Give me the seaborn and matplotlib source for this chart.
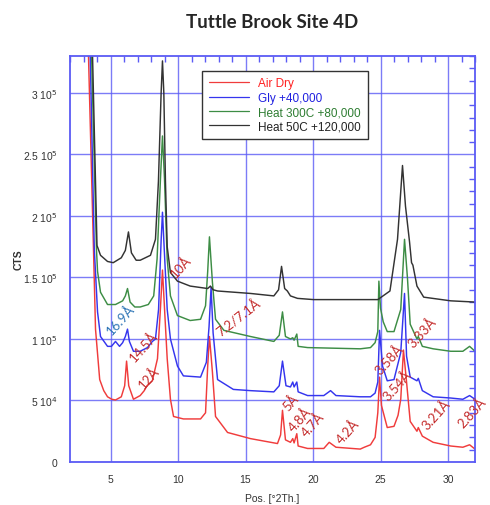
import numpy as np
import pandas as pd
import matplotlib
matplotlib.use('Agg')
import matplotlib.pyplot as plt
import seaborn as sns
from matplotlib.ticker import MultipleLocator

# XRD scans (raw counts, offsets added below)
air_x = [3.2, 3.37, 3.74, 3.89, 4.2, 4.5, 4.78, 5.1, 5.37, 5.8, 6.05, 6.19, 6.35, 6.7, 7.2, 7.5, 7.7, 8.1,
         8.48, 8.7, 8.85, 9.0, 9.2, 9.44, 9.67, 10.4, 11.67, 12.04, 12.2, 12.33, 12.55, 12.78, 13.67, 15.37,
         17.37, 17.6, 17.74, 17.96, 18.33, 18.5, 18.6, 18.8, 18.9, 19.6, 20.8, 21.2, 21.7, 23.5, 23.8, 24.26,
         24.6, 24.8, 24.93, 25.07, 25.5, 26.0, 26.3, 26.5, 26.7, 26.93, 27.2, 27.7, 27.8, 28.1, 28.9, 30.2,
         31.1, 31.6, 32.0]
air_y = [450000, 330000, 173000, 108000, 67000, 58000, 53000, 51000, 50400, 53000, 62000, 82000, 62000,
         51000, 54000, 58000, 62000, 66000, 84000, 125000, 156000, 125000, 84000, 51000, 37000, 35000, 35000,
         40000, 78000, 102000, 73000, 37000, 24000, 19000, 15000, 22000, 42000, 18000, 16000, 19000, 15500,
         23000, 13000, 11000, 11000, 16000, 12000, 10500, 12000, 14000, 20000, 40000, 69000, 46000, 28000,
         29000, 38000, 51000, 91000, 65000, 33000, 25000, 28000, 21000, 16000, 13000, 12000, 14000, 10500]

gly_x = [3.2, 3.5, 3.8, 4.04, 4.26, 4.78, 5.07, 5.37, 5.67, 5.9, 6.1, 6.26, 6.4, 6.55, 6.7, 7.2, 7.74, 8.1,
         8.33, 8.56, 8.75, 8.85, 8.95, 9.2, 9.44, 9.96, 10.4, 11.67, 12.1, 12.3, 12.45, 12.6, 12.93, 14.1,
         15.37, 17.1, 17.5, 17.74, 18.0, 18.33, 18.5, 18.6, 18.8, 18.9, 19.6, 20.8, 21.3, 21.7, 23.5, 24.26,
         24.6, 24.8, 24.93, 25.15, 25.5, 26.0, 26.5, 26.78, 26.93, 27.2, 27.7, 27.8, 28.1, 28.9, 30.2, 31.1,
         31.6, 32.0]
gly_y = [460000, 290000, 133000, 82000, 62000, 54000, 54000, 58000, 54000, 57000, 62000, 68000, 58000,
         54000, 50000, 50000, 53000, 58000, 60000, 84000, 140000, 163000, 140000, 84000, 60000, 38000, 30000,
         29000, 41000, 70000, 102000, 65000, 27000, 19000, 18000, 17000, 22000, 42000, 22000, 21000, 25000,
         21000, 25000, 17000, 14000, 14000, 18000, 14000, 13000, 13000, 16000, 25000, 67000, 38000, 26000,
         27000, 49000, 97000, 46000, 29000, 26000, 28000, 18000, 13000, 12000, 11000, 14000, 11000]

heat300_x = [3.2, 3.6, 3.96, 4.04, 4.26, 4.78, 5.37, 5.9, 6.1, 6.26, 6.45, 6.8, 7.2, 7.8, 8.2, 8.45, 8.7,
             8.85, 9.0, 9.2, 9.44, 9.96, 10.9, 11.67, 12.04, 12.2, 12.33, 12.55, 12.78, 13.4, 15.37, 17.1,
             17.5, 17.74, 17.96, 18.33, 18.5, 18.6, 18.8, 18.9, 19.6, 23.5, 24.26, 24.6, 24.8, 24.88, 25.0,
             25.2, 25.5, 26.0, 26.5, 26.78, 27.0, 27.2, 27.7, 27.8, 28.1, 28.9, 30.2, 31.1, 31.6, 32.0]
heat300_y = [420000, 250000, 93000, 75000, 58000, 48000, 48000, 51000, 55000, 61000, 50000, 46000, 46000,
             48000, 55000, 85000, 150000, 185000, 150000, 85000, 55000, 39000, 35000, 36000, 47000, 75000,
             103000, 66000, 36000, 27000, 22000, 18000, 23000, 42000, 22000, 20000, 21000, 19000, 24000,
             14000, 13000, 12000, 13000, 17000, 26000, 67000, 45000, 34000, 26000, 26000, 44000, 101000,
             69000, 32000, 20000, 22000, 14000, 12000, 10000, 10000, 14000, 10000]

heat50_x = [3.2, 3.67, 4.0, 4.26, 4.78, 5.2, 5.8, 6.1, 6.33, 6.55, 6.9, 7.2, 7.96, 8.33, 8.55, 8.75, 8.85,
            8.95, 9.07, 9.2, 9.44, 9.96, 10.9, 12.2, 12.4, 12.6, 12.93, 15.37, 17.1, 17.45, 17.67, 17.9,
            18.1, 18.33, 18.85, 20.04, 23.5, 24.8, 25.7, 26.26, 26.63, 26.85, 27.15, 27.3, 27.4, 27.7, 28.2,
            30.2, 32.0]
heat50_y = [380000, 210000, 56000, 48000, 43000, 42000, 46000, 52000, 67000, 50000, 44000, 44000, 48000,
            61000, 108000, 180000, 206000, 180000, 108000, 55000, 34000, 27000, 23000, 21000, 23000, 20000,
            19000, 17000, 15000, 20000, 39000, 21000, 19000, 15000, 13000, 12000, 12000, 12000, 19000, 61000,
            121000, 88000, 59000, 42000, 40000, 23000, 14000, 11000, 10000]

series_names = ['Air Dry', 'Gly +40,000', 'Heat 300C +80,000', 'Heat 50C +120,000']
offsets = [0, 40000, 80000, 120000]
line_colors = ['#f03c3c', '#3535ee', '#3d8d45', '#333333']
text_colors = ['#ff2020', '#2020e0', '#2e7d32', '#222222']

peak_labels = ['10Å', '16.9Å', '14.5Å', '12Å', '7.2/7.1Å', '5Å', '4.8Å', '4.7Å', '4.2Å',
               '3.58Å', '3.54Å', '3.33Å', '3.21Å', '2.83Å']
peak_label_x = [10.2, 5.75, 7.4, 7.8, 14.5, 18.3, 19.05, 19.95, 22.6, 25.6, 26.25, 28.1, 29.1, 31.75]
peak_label_y = [159000, 116000, 94000, 69000, 118000, 49000, 35000, 31000, 25000, 84000, 63000, 106000,
                39000, 41000]

ytick_vals = [0, 50000, 100000, 150000, 200000, 250000, 300000]
ytick_text = ['0', r'5 10$^4$', r'1 10$^5$', r'1.5 10$^5$', r'2 10$^5$', r'2.5 10$^5$', r'3 10$^5$']

frames = []
for name, off, xs, ys in zip(series_names, offsets,
                             [air_x, gly_x, heat300_x, heat50_x],
                             [air_y, gly_y, heat300_y, heat50_y]):
    frames.append(pd.DataFrame({'pos': xs, 'cts': np.array(ys) + off, 'scan': name}))
df = pd.concat(frames, ignore_index=True)

sns.set_style('white')
plt.rcParams['font.family'] = ['Liberation Sans', 'DejaVu Sans']
grid_blue = '#5b5bf5'

fig = plt.figure(figsize=(4.9, 5.06), dpi=100)
ax = fig.add_axes([70 / 490, 43 / 506, 405 / 490, 406 / 506])

sns.lineplot(data=df, x='pos', y='cts', hue='scan', hue_order=series_names,
             palette=dict(zip(series_names, line_colors)), sort=False, estimator=None,
             linewidth=1.05, ax=ax, legend=False)

ax.set_xlim(2, 32)
ax.set_ylim(0, 330000)
ax.xaxis.set_major_locator(MultipleLocator(5))
ax.xaxis.set_minor_locator(MultipleLocator(1))
ax.set_yticks(ytick_vals)
ax.set_yticklabels(ytick_text)
ax.yaxis.set_minor_locator(MultipleLocator(10000))
ax.tick_params(which='both', direction='in', colors=grid_blue, labelcolor='#333333',
               top=True, right=True, labelsize=7.5, pad=9)
ax.tick_params(which='major', length=0)
ax.tick_params(which='minor', length=4, width=1)
ax.grid(True, which='major', color=grid_blue, linewidth=1, alpha=0.8)
for sp in ax.spines.values():
    sp.set_color(grid_blue)
    sp.set_linewidth(1.3)

ax.set_xlabel('Pos. [°2Th.]', fontsize=7.5, color='#333333', labelpad=6)
ax.set_ylabel('CTS', fontsize=7.5, fontweight='bold', color='#333333')
ax.yaxis.set_label_coords(-0.115, 0.5)

fig.text(272 / 490, 1 - 22 / 506, 'Tuttle Brook Site 4D', ha='center', va='center',
         fontsize=13.5, fontweight='bold', family=['Lato', 'DejaVu Sans'])

for lab, lx, ly in zip(peak_labels, peak_label_x, peak_label_y):
    col = '#2e75b6' if lab == '16.9Å' else '#c42b2b'
    rot = 38 if lab == '7.2/7.1Å' else 48
    ax.text(lx, ly, lab, color=col, fontsize=9.5, rotation=rot, ha='center', va='center',
            rotation_mode='anchor', family=['Lato', 'DejaVu Sans'], clip_on=False)

handles = [plt.Line2D([], [], color=c, linewidth=0.9) for c in line_colors]
leg = ax.legend(handles, series_names, loc='upper left', bbox_to_anchor=(0.312, 0.978),
                fontsize=8.5, frameon=True, fancybox=False, edgecolor='#333333',
                handlelength=3.4, borderpad=0.55, labelspacing=0.2, framealpha=1)
leg.get_frame().set_linewidth(1.0)
for t, c in zip(leg.get_texts(), text_colors):
    t.set_color(c)

fig.savefig('out.png', dpi=100)
